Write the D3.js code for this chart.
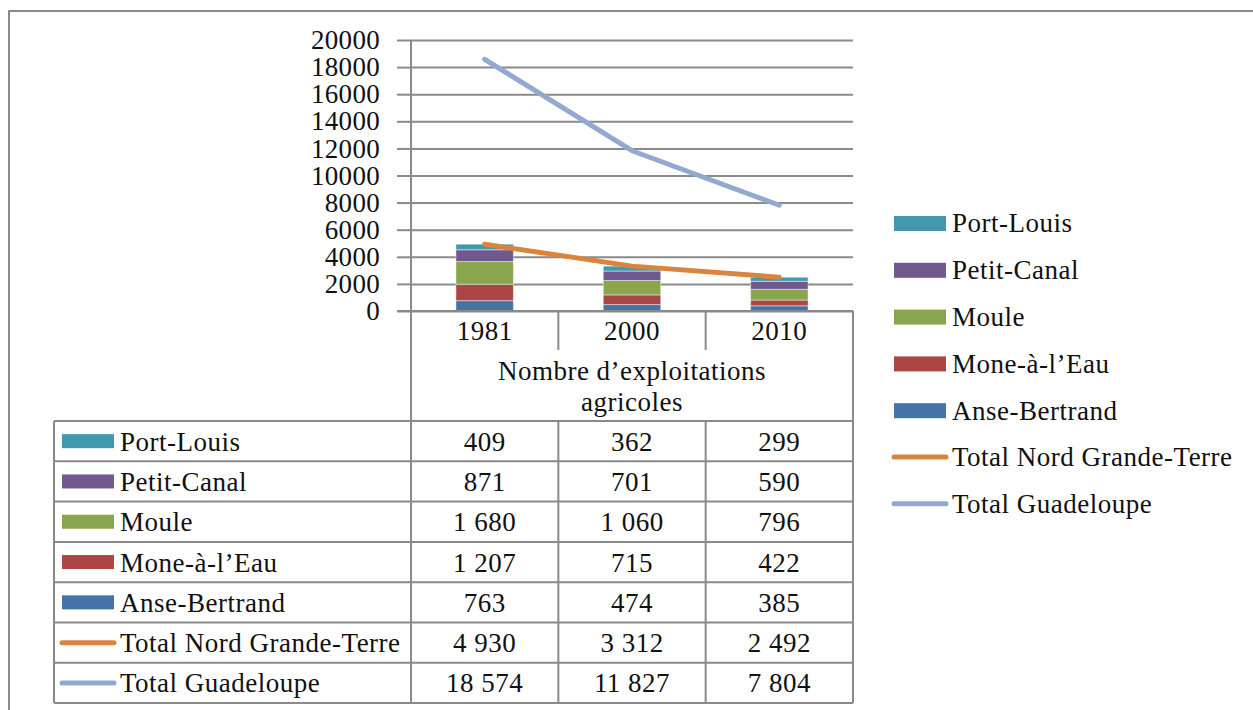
<!DOCTYPE html>
<html>
<head>
<meta charset="utf-8">
<script src="https://cdn.jsdelivr.net/npm/d3@7"></script>
<style>
  html, body { margin: 0; padding: 0; background: #fff; }
  svg text { font-family: "Liberation Serif", "Times New Roman", serif; font-size: 27px; letter-spacing: 0.5px; fill: #111; }
</style>
</head>
<body>
<svg id="chart" width="1253" height="710"></svg>
<script>
// ---------- data ----------
const categories = ["1981", "2000", "2010"];
const anseBertrand = [763, 474, 385];
const moneALEau   = [1207, 715, 422];
const moule       = [1680, 1060, 796];
const petitCanal  = [871, 701, 590];
const portLouis   = [409, 362, 299];
const totalNordGrandeTerre = [4930, 3312, 2492];
const totalGuadeloupe      = [18574, 11827, 7804];
const yTicks = [0, 2000, 4000, 6000, 8000, 10000, 12000, 14000, 16000, 18000, 20000];
const headerLines = ["Nombre d\u2019exploitations", "agricoles"];

// stacked series, bottom to top
const barSeries = [
  { name: "Anse-Bertrand", values: anseBertrand, color: "#4572A7" },
  { name: "Mone-\u00e0-l\u2019Eau", values: moneALEau, color: "#AA4643" },
  { name: "Moule", values: moule, color: "#89A54E" },
  { name: "Petit-Canal", values: petitCanal, color: "#71588F" },
  { name: "Port-Louis", values: portLouis, color: "#4198AF" }
];
const lineSeries = [
  { name: "Total Nord Grande-Terre", values: totalNordGrandeTerre, color: "#DB843D" },
  { name: "Total Guadeloupe", values: totalGuadeloupe, color: "#93A9CF" }
];
// legend / table order
const legendItems = [
  ...barSeries.slice().reverse().map(s => ({ ...s, type: "bar" })),
  ...lineSeries.map(s => ({ ...s, type: "line" }))
];

// ---------- layout ----------
const svg = d3.select("#chart");
const gridColor = "#8a8a8a";
const plotLeft = 411, plotRight = 853, plotTop = 40, plotBottom = 311;
const x = d3.scaleBand().domain(categories).range([plotLeft, plotRight]).padding(0);
const y = d3.scaleLinear().domain([0, 20000]).range([plotBottom, plotTop]);
const fr = d3.formatLocale({ decimal: ",", thousands: "\u00a0", grouping: [3], currency: ["", ""] });
const fmt = fr.format(",d");

// outer frame (top and left only visible)
svg.append("path").attr("d", "M9,710 V11 H1253")
  .attr("fill", "none").attr("stroke", gridColor).attr("stroke-width", 2);

// gridlines
const grid = svg.append("g").attr("transform", `translate(${plotLeft},0)`)
  .call(d3.axisLeft(y).tickValues(yTicks).tickSize(-(plotRight - plotLeft)).tickFormat(""));
grid.select(".domain").remove();
grid.selectAll("line").attr("stroke", gridColor).attr("stroke-width", 2);

// y axis with ticks and labels
const yAxis = svg.append("g").attr("transform", `translate(${plotLeft},0)`)
  .call(d3.axisLeft(y).tickValues(yTicks).tickSize(14).tickPadding(17).tickFormat(d => String(d)));
yAxis.select(".domain").remove();
yAxis.selectAll("line").attr("stroke", gridColor).attr("stroke-width", 2);
yAxis.selectAll("text").attr("fill", "#111").attr("font-size", 27)
  .attr("font-family", "Liberation Serif").style("letter-spacing", "0.3px");

// stacked bars
const stackData = categories.map((c, i) => {
  const o = { cat: c };
  barSeries.forEach(s => o[s.name] = s.values[i]);
  return o;
});
const stacked = d3.stack().keys(barSeries.map(s => s.name))(stackData);
const barW = x.bandwidth() * 0.39;
svg.append("g").selectAll("g").data(stacked).join("g")
  .attr("fill", (d, i) => barSeries[i].color)
  .selectAll("rect").data(d => d).join("rect")
  .attr("x", d => x(d.data.cat) + (x.bandwidth() - barW) / 2)
  .attr("width", barW)
  .attr("y", d => y(d[1]))
  .attr("height", d => y(d[0]) - y(d[1]))
  .attr("stroke", "rgba(255,255,255,0.45)")
  .attr("stroke-width", 1);

// lines
const line = d3.line().x((d, i) => x(categories[i]) + x.bandwidth() / 2).y(d => y(d));
lineSeries.forEach(s => {
  svg.append("path").datum(s.values).attr("d", line)
    .attr("fill", "none").attr("stroke", s.color).attr("stroke-width", 5)
    .attr("stroke-linecap", "round").attr("stroke-linejoin", "round");
});

// ---------- data table ----------
const tableLeft = 54;
const headerDivBottom = 350;
const rowTop = 421, rowH = 40.3;
const nRows = legendItems.length;
const tableBottom = rowTop + rowH * nRows;
const tg = svg.append("g").attr("stroke", gridColor).attr("stroke-width", 2);
// vertical axis line through table
tg.append("line").attr("x1", plotLeft).attr("x2", plotLeft).attr("y1", plotTop).attr("y2", tableBottom);
// right border
tg.append("line").attr("x1", plotRight).attr("x2", plotRight).attr("y1", plotBottom).attr("y2", tableBottom);
// x axis baseline
tg.append("line").attr("x1", plotLeft - 14).attr("x2", plotRight).attr("y1", plotBottom).attr("y2", plotBottom);
// column dividers
categories.slice(1).forEach(c => {
  tg.append("line").attr("x1", x(c)).attr("x2", x(c)).attr("y1", plotBottom).attr("y2", headerDivBottom);
  tg.append("line").attr("x1", x(c)).attr("x2", x(c)).attr("y1", rowTop).attr("y2", tableBottom);
});
// left border of label column
tg.append("line").attr("x1", tableLeft).attr("x2", tableLeft).attr("y1", rowTop).attr("y2", tableBottom);
// horizontal row lines
d3.range(nRows + 1).forEach(i => {
  const yy = rowTop + i * rowH;
  tg.append("line").attr("x1", tableLeft).attr("x2", plotRight).attr("y1", yy).attr("y2", yy);
});

// year labels
svg.append("g").selectAll("text").data(categories).join("text")
  .attr("x", d => x(d) + x.bandwidth() / 2).attr("y", 331)
  .attr("text-anchor", "middle").attr("dy", "0.35em").text(d => d);
// header title
svg.append("g").selectAll("text").data(headerLines).join("text")
  .attr("x", (plotLeft + plotRight) / 2).attr("y", (d, i) => 371 + i * 31)
  .attr("text-anchor", "middle").attr("dy", "0.35em").text(d => d);

// rows
legendItems.forEach((s, r) => {
  const cy = rowTop + r * rowH + rowH / 2;
  if (s.type === "bar") {
    svg.append("rect").attr("x", 62).attr("y", cy - 7).attr("width", 52).attr("height", 14).attr("fill", s.color);
  } else {
    svg.append("line").attr("x1", 62).attr("x2", 114).attr("y1", cy).attr("y2", cy)
      .attr("stroke", s.color).attr("stroke-width", 5).attr("stroke-linecap", "round");
  }
  svg.append("text").attr("x", 120).attr("y", cy).attr("dy", "0.35em").text(s.name);
  svg.append("g").selectAll("text").data(s.values).join("text")
    .attr("x", (d, i) => x(categories[i]) + x.bandwidth() / 2)
    .attr("y", cy).attr("dy", "0.35em").attr("text-anchor", "middle")
    .text(d => fmt(d));
});

// ---------- right legend ----------
const legTop = 223, legStep = 46.8;
legendItems.forEach((s, r) => {
  const cy = legTop + r * legStep;
  if (s.type === "bar") {
    svg.append("rect").attr("x", 894).attr("y", cy - 7).attr("width", 52).attr("height", 15).attr("fill", s.color);
  } else {
    svg.append("line").attr("x1", 894).attr("x2", 946).attr("y1", cy).attr("y2", cy)
      .attr("stroke", s.color).attr("stroke-width", 5).attr("stroke-linecap", "round");
  }
  svg.append("text").attr("x", 952).attr("y", cy).attr("dy", "0.35em").text(s.name);
});
</script>
</body>
</html>
